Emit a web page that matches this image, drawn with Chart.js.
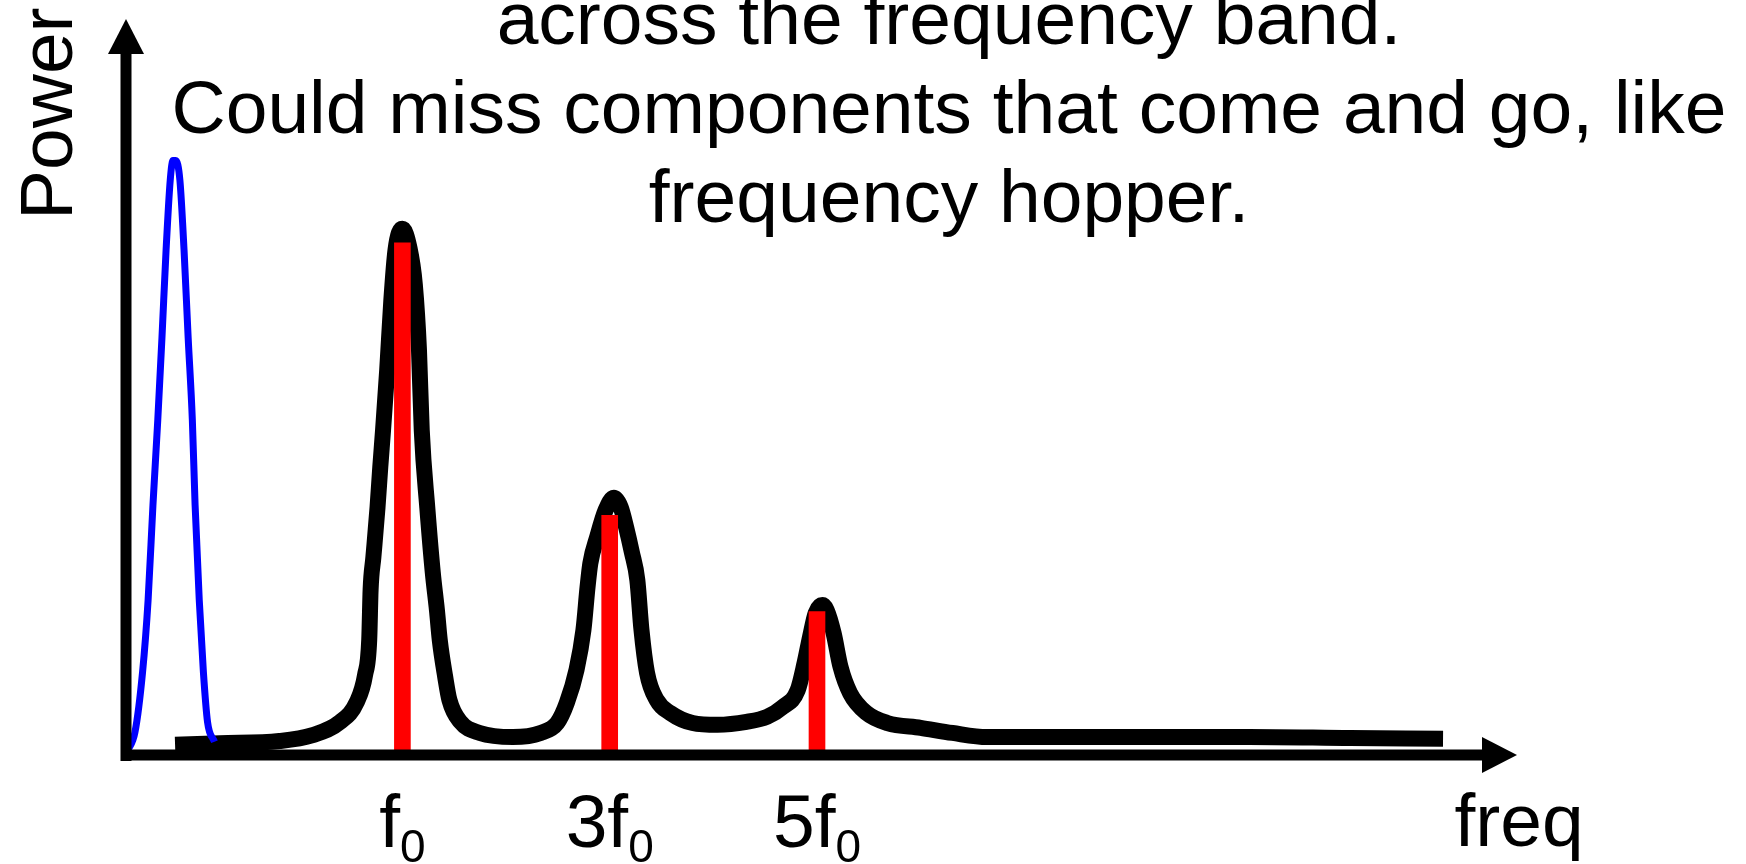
<!DOCTYPE html>
<html>
<head>
<meta charset="utf-8">
<script src="https://cdn.jsdelivr.net/npm/chart.js@4.4.1/dist/chart.umd.min.js"></script>
<style>
  html, body { margin: 0; padding: 0; background: #fff; }
  #wrap { width: 1746px; height: 864px; }
</style>
</head>
<body>
<div id="wrap"><canvas id="myChart" width="1746" height="864"></canvas></div>
<script>
const titleLines = [
  'across the frequency band.',
  'Could miss components that come and go, like',
  'frequency hopper.'
];
const yLabel = 'Power';
const xLabel = 'freq';

// harmonics (red lines) and their tick labels
const harmonicX = [20, 35, 50];
const harmonicNames = ['f', '3f', '5f'];
const harmonicSub = ['0', '0', '0'];
const harmonicPower = [69.7, 32.6, 19.5];

// measured spectrum, black trace
const spectrumX = [3.55, 6.8, 11.1, 13.5, 15.5, 16.7, 17.3, 17.6, 17.7, 17.9, 18.2, 18.4, 18.6, 18.9,
  19.2, 19.5, 20.0, 20.5, 20.9, 21.2, 21.4, 21.8, 22.2, 22.5, 22.7, 23.1, 23.4, 24.2, 25.6, 28.0,
  30.0, 31.2, 31.9, 32.6, 33.1, 33.4, 33.6, 34.1, 34.7, 35.3, 35.8, 36.2, 36.6, 37.0, 37.3, 37.7,
  38.4, 39.4, 41.0, 42.8, 44.9, 46.4, 47.5, 48.6, 49.1, 49.5, 49.9, 50.4, 50.7, 51.2, 51.7, 52.4,
  53.6, 55.1, 57.5, 59.8, 62.3, 67.1, 74.3, 81.3, 88.6, 95.3];
const spectrumY = [1.4, 1.6, 1.9, 2.7, 4.5, 7.2, 10.9, 15.7, 22.5, 26.9, 33.7, 39.2, 44.2, 52.4,
  61.9, 68.7, 71.6, 69.1, 64.0, 55.1, 44.2, 33.7, 24.8, 19.7, 15.7, 10.6, 7.5, 4.5, 3.0, 2.45,
  3.0, 4.35, 7.1, 11.6, 17.0, 22.9, 26.1, 29.7, 33.3, 35.0, 33.7, 30.9, 27.6, 23.8, 17.0, 11.2,
  7.5, 5.7, 4.35, 4.1, 4.5, 5.2, 6.5, 8.8, 12.5, 16.1, 19.3, 20.4, 19.7, 16.6, 12.0, 8.4,
  5.7, 4.35, 3.7, 3.0, 2.45, 2.45, 2.45, 2.45, 2.3, 2.2];

// frequency hopper burst, blue trace
const hopperX = [0.1, 0.65, 1.2, 1.6, 1.95, 2.3, 2.6, 2.9, 3.2, 3.4, 3.6, 3.9, 4.2, 4.5, 4.8, 5.0, 5.3, 5.6, 5.9, 6.4];
const hopperY = [0.5, 3.1, 11.3, 21.1, 34.0, 45.6, 56.7, 68.7, 78.2, 80.9, 80.9, 78.2, 68.7, 56.7, 45.6, 34.0, 21.1, 11.3, 4.5, 1.8];

const FONT = '"Liberation Sans", Arial, sans-serif';

const zip = (xs, ys) => xs.map((x, i) => ({x: x, y: ys[i]}));

const overlay = {
  id: 'overlay',
  afterDatasetsDraw(chart) {
    const {ctx, chartArea: a, scales: {x, y}} = chart;
    const x0 = x.getPixelForValue(0);
    const y0 = y.getPixelForValue(0);
    ctx.save();
    ctx.fillStyle = '#000';
    ctx.strokeStyle = '#000';
    ctx.lineWidth = 11;

    // y axis with arrow
    ctx.beginPath();
    ctx.moveTo(x0, y0 + 6);
    ctx.lineTo(x0, a.top + 30);
    ctx.stroke();
    ctx.beginPath();
    ctx.moveTo(x0, a.top - 1);
    ctx.lineTo(x0 - 18, a.top + 34);
    ctx.lineTo(x0 + 18, a.top + 34);
    ctx.closePath();
    ctx.fill();

    // x axis with arrow
    ctx.beginPath();
    ctx.moveTo(x0 - 5, y0);
    ctx.lineTo(a.right - 22, y0);
    ctx.stroke();
    ctx.beginPath();
    ctx.moveTo(a.right + 9, y0);
    ctx.lineTo(a.right - 26, y0 - 18);
    ctx.lineTo(a.right - 26, y0 + 18);
    ctx.closePath();
    ctx.fill();

    // text on top
    ctx.font = '75px ' + FONT;
    ctx.textAlign = 'center';
    ctx.textBaseline = 'alphabetic';
    titleLines.forEach((t, i) => ctx.fillText(t, 949, 44 + i * 89));

    ctx.fillText(xLabel, a.right + 11, 846);

    // harmonic tick labels with subscript
    ctx.textAlign = 'left';
    harmonicX.forEach((v, i) => {
      ctx.font = '75px ' + FONT;
      const w1 = ctx.measureText(harmonicNames[i]).width;
      ctx.font = '46px ' + FONT;
      const w2 = ctx.measureText(harmonicSub[i]).width;
      const left = x.getPixelForValue(v) - (w1 + w2) / 2;
      ctx.font = '75px ' + FONT;
      ctx.fillText(harmonicNames[i], left, 847);
      ctx.font = '46px ' + FONT;
      ctx.fillText(harmonicSub[i], left + w1, 862);
    });

    // rotated y label
    ctx.font = '75px ' + FONT;
    ctx.translate(72, 220);
    ctx.rotate(-Math.PI / 2);
    ctx.fillText(yLabel, 0, 0);
    ctx.restore();
  }
};

const ctx = document.getElementById('myChart').getContext('2d');

let myChart = new Chart(ctx, {
  type: 'line',
  data: {
    datasets: [{
      type: 'bar',
      data: zip(harmonicX, harmonicPower),
      backgroundColor: '#ff0000',
      barThickness: 16,
      order: 1
    }, {
      data: zip(hopperX, hopperY),
      borderColor: '#0000ff',
      borderWidth: 7,
      pointRadius: 0,
      cubicInterpolationMode: 'monotone',
      clip: false,
      order: 2
    }, {
      data: zip(spectrumX, spectrumY),
      borderColor: '#000000',
      borderWidth: 16,
      borderJoinStyle: 'round',
      pointRadius: 0,
      cubicInterpolationMode: 'monotone',
      clip: false,
      order: 3
    }]
  },
  options: {
    responsive: false,
    animation: false,
    events: [],
    layout: {
      autoPadding: false,
      padding: {left: 126, right: 238, top: 20, bottom: 109}
    },
    plugins: {
      legend: {display: false},
      tooltip: {enabled: false}
    },
    scales: {
      x: {type: 'linear', min: 0, max: 100, offset: false, display: false},
      y: {type: 'linear', min: 0, max: 100, display: false}
    }
  },
  plugins: [overlay]
});
</script>
</body>
</html>
